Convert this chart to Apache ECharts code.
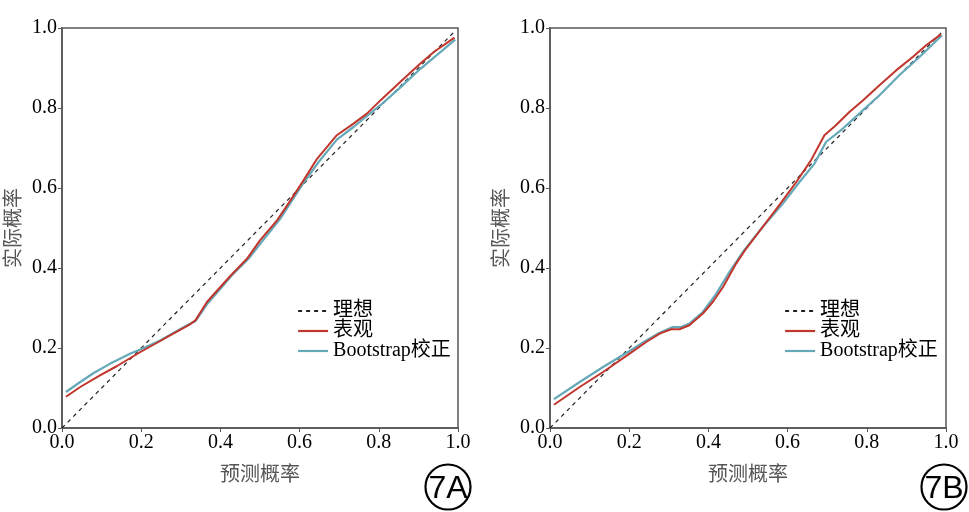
<!DOCTYPE html>
<html lang="zh">
<head>
<meta charset="UTF-8">
<title>校准曲线</title>
<style>
    html, body { margin: 0; padding: 0; background: #fff; }
    #main { width: 969px; height: 512px; }
</style>
</head>
<body>
<div id="main"></div>
<script src="https://cdn.jsdelivr.net/npm/echarts@6/dist/echarts.min.js"></script>
<script>
    var ticks = [0, 0.2, 0.4, 0.6, 0.8, 1.0];
    var legendNames = ['理想', '表观', 'Bootstrap校正'];

    // 理想线
    var idealX = [0.0, 0.99];
    var idealY = [0.0, 0.99];

    // 7A 表观
    var aRedX = [0.01, 0.046, 0.097, 0.139, 0.198, 0.248, 0.274, 0.32, 0.337, 0.366, 0.4, 0.425, 0.467, 0.5, 0.543, 0.577, 0.61, 0.644, 0.673, 0.694, 0.736, 0.77, 0.804, 0.854, 0.905, 0.939, 0.991];
    var aRedY = [0.078, 0.1025, 0.132, 0.155, 0.19, 0.2175, 0.232, 0.257, 0.269, 0.315, 0.3525, 0.38, 0.423, 0.469, 0.519, 0.569, 0.619, 0.673, 0.707, 0.732, 0.761, 0.786, 0.819, 0.865, 0.911, 0.94, 0.976];
    // 7A Bootstrap校正
    var aBlueX = [0.01, 0.046, 0.08, 0.122, 0.173, 0.198, 0.248, 0.316, 0.337, 0.366, 0.4, 0.429, 0.471, 0.509, 0.551, 0.581, 0.606, 0.648, 0.694, 0.736, 0.804, 0.854, 0.905, 0.993];
    var aBlueY = [0.09, 0.115, 0.1375, 0.161, 0.186, 0.196, 0.219, 0.257, 0.2675, 0.309, 0.348, 0.382, 0.423, 0.471, 0.523, 0.569, 0.607, 0.665, 0.721, 0.7525, 0.807, 0.851, 0.898, 0.971];

    // 7B 表观
    var bRedX = [0.01, 0.075, 0.134, 0.201, 0.243, 0.277, 0.306, 0.327, 0.352, 0.386, 0.411, 0.437, 0.47, 0.495, 0.537, 0.579, 0.622, 0.659, 0.693, 0.722, 0.756, 0.79, 0.832, 0.874, 0.916, 0.95, 0.987];
    var bRedY = [0.058, 0.1025, 0.14, 0.186, 0.215, 0.236, 0.247, 0.247, 0.257, 0.286, 0.315, 0.3525, 0.411, 0.448, 0.5025, 0.557, 0.615, 0.669, 0.732, 0.757, 0.79, 0.819, 0.857, 0.894, 0.9275, 0.957, 0.984];
    // 7B Bootstrap校正
    var bBlueX = [0.01, 0.075, 0.134, 0.201, 0.243, 0.277, 0.31, 0.331, 0.352, 0.386, 0.42, 0.453, 0.487, 0.537, 0.588, 0.63, 0.668, 0.697, 0.739, 0.781, 0.832, 0.882, 0.933, 0.99];
    var bBlueY = [0.072, 0.115, 0.1525, 0.1925, 0.219, 0.238, 0.2525, 0.2525, 0.261, 0.29, 0.336, 0.39, 0.44, 0.5025, 0.561, 0.615, 0.661, 0.715, 0.748, 0.786, 0.832, 0.882, 0.9275, 0.982];

    var RED = '#c0362c';
    var BLUE = '#65a9b9';
    var AXIS = '#555';
    var SERIF = '"Liberation Serif", "Times New Roman", serif';
    var CJK = '"Noto Sans CJK SC", sans-serif';

    function pairs(xs, ys) {
        var out = [];
        for (var i = 0; i < xs.length; i++) {
            out.push([xs[i], ys[i]]);
        }
        return out;
    }

    function makeAxis(idx, isX) {
        return {
            type: 'value',
            gridIndex: idx,
            min: 0,
            max: 1,
            interval: 0.2,
            name: isX ? '预测概率' : '实际概率',
            nameLocation: 'middle',
            nameGap: isX ? 35 : 40,
            nameRotate: isX ? 0 : 90,
            nameTextStyle: { fontFamily: CJK, fontSize: 20, color: '#555' },
            axisLine: { show: true, lineStyle: { color: AXIS, width: 1.5 } },
            axisTick: { show: true, length: 4, lineStyle: { color: AXIS } },
            splitLine: { show: false },
            axisLabel: {
                fontFamily: SERIF,
                fontSize: 20,
                color: '#000',
                margin: 5,
                formatter: function (v) { return v.toFixed(1); }
            }
        };
    }

    function panelSeries(idx, redX, redY, blueX, blueY) {
        return [
            {
                name: '理想', type: 'line', xAxisIndex: idx, yAxisIndex: idx,
                data: pairs(idealX, idealY), symbol: 'none', z: 3,
                lineStyle: { color: '#222', width: 1.2, type: [4, 4] },
                itemStyle: { color: '#222' }
            },
            {
                name: 'Bootstrap校正', type: 'line', xAxisIndex: idx, yAxisIndex: idx,
                data: pairs(blueX, blueY), symbol: 'none', z: 4,
                lineStyle: { color: BLUE, width: 2.2 },
                itemStyle: { color: BLUE }
            },
            {
                name: '表观', type: 'line', xAxisIndex: idx, yAxisIndex: idx,
                data: pairs(redX, redY), symbol: 'none', z: 5,
                lineStyle: { color: RED, width: 2 },
                itemStyle: { color: RED }
            }
        ];
    }

    function makeLegend(left) {
        return {
            data: legendNames,
            left: left,
            top: 296,
            orient: 'vertical',
            itemWidth: 30,
            itemHeight: 10,
            itemGap: 0,
            selectedMode: false,
            itemStyle: { opacity: 0 },
            lineStyle: { width: 2.2 },
            textStyle: {
                fontFamily: SERIF + ', ' + CJK, fontSize: 20, color: '#000',
                lineHeight: 19
            }
        };
    }

    function badge(cx, text) {
        return {
            type: 'group',
            children: [
                {
                    type: 'circle',
                    shape: { cx: cx, cy: 487, r: 22.5 },
                    style: { fill: 'none', stroke: '#000', lineWidth: 2.2 }
                },
                {
                    type: 'text',
                    x: cx, y: 489,
                    style: {
                        text: text, fill: '#000',
                        font: '32px "Liberation Sans", Arial, sans-serif',
                        align: 'center', verticalAlign: 'middle'
                    }
                }
            ]
        };
    }

    var chart = echarts.init(document.getElementById('main'), null, { renderer: 'canvas' });
    var option = {
        animation: false,
        backgroundColor: '#fff',
        grid: [
            { left: 62, top: 28, width: 396, height: 400, show: true, borderColor: AXIS, borderWidth: 1.5, backgroundColor: 'transparent' },
            { left: 550, top: 28, width: 396, height: 400, show: true, borderColor: AXIS, borderWidth: 1.5, backgroundColor: 'transparent' }
        ],
        xAxis: [makeAxis(0, true), makeAxis(1, true)],
        yAxis: [makeAxis(0, false), makeAxis(1, false)],
        legend: [makeLegend(292), makeLegend(779)],
        graphic: [badge(448, '7A'), badge(944, '7B')],
        series: panelSeries(0, aRedX, aRedY, aBlueX, aBlueY)
            .concat(panelSeries(1, bRedX, bRedY, bBlueX, bBlueY))
    };
    chart.setOption(option);
</script>
</body>
</html>
